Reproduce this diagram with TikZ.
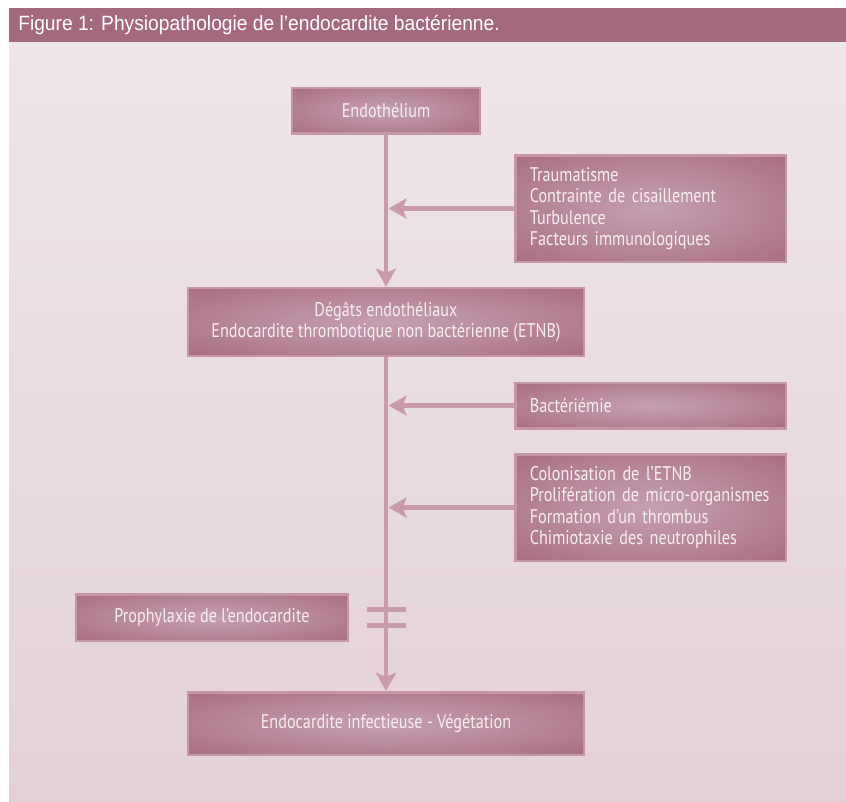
\documentclass[tikz,border=0pt]{standalone}
\usepackage{fontspec}
\setmainfont{PT Sans}[FakeStretch=0.82]
\newfontfamily\titlefont{Liberation Sans}[FakeStretch=0.93]
\usetikzlibrary{arrows.meta,calc}
\definecolor{barcol}{HTML}{A4697D}
\definecolor{bgtop}{HTML}{EFE6E8}
\definecolor{bgbot}{HTML}{E3D1D6}
\definecolor{boxcol}{HTML}{A5687D}
\definecolor{boxhi}{HTML}{C6A0B1}
\definecolor{boxedge}{HTML}{C597A6}
\definecolor{linkcol}{HTML}{C99BAA}
\definecolor{boxtext}{HTML}{F8EFF2}
\pgfdeclareradialshading{glow}{\pgfpoint{0bp}{0bp}}{color(0bp)=(boxhi); color(40bp)=(boxcol); color(75bp)=(boxcol)}
\tikzset{box/.style={draw=boxedge, line width=2pt, shading=glow, text=boxtext, inner sep=0pt, font=\fontsize{14.8}{16}\selectfont},
  list/.style={box, align=left, minimum width=203pt, text width=181pt, minimum height=80pt},
  link/.style={draw=linkcol, line width=3.5pt, -{Stealth[length=13.5pt, width=15pt, inset=3pt]}},
  bar/.style={draw=linkcol, line width=3.75pt}}
\begin{document}
\begin{tikzpicture}[x=0.75pt, y=-0.75pt]
  \useasboundingbox (0,0) rectangle (846,801);
  % panel
  \shade[top color=bgtop, bottom color=bgbot] (9,42) rectangle (846,801);
  \fill[barcol] (9,8) rectangle (846,42);
  \node[anchor=west, inner sep=0pt, text=white, font=\titlefont\fontsize{15.5}{17}\selectfont] (title) at (18,25) {Figure 1: Physiopathologie de l’endocardite bactérienne.};
  % boxes
  \node[box, minimum width=141pt, minimum height=34pt] (endo) at (386,110.5) {Endothélium};
  \node[list] (trauma) at (650.5,208.5) {Traumatisme\\Contrainte de cisaillement\\Turbulence\\Facteurs immunologiques};
  \node[box, align=center, minimum width=297pt, minimum height=51pt] (degats) at (386,322) {Dégâts endothéliaux\\Endocardite thrombotique non bactérienne (ETNB)};
  \node[box, align=left, minimum width=203pt, text width=181pt, minimum height=34pt] (bact) at (650.5,405.5) {Bactériémie};
  \node[list] (colon) at (650.5,507.5) {Colonisation de l’ETNB\\Prolifération de micro-organismes\\Formation d’un thrombus\\Chimiotaxie des neutrophiles};
  \node[box, minimum width=204pt, minimum height=35pt] (proph) at (212,617.5) {Prophylaxie de l’endocardite};
  \node[box, minimum width=297pt, minimum height=47pt] (infect) at (386,723.5) {Endocardite infectieuse - Végétation};
  % links
  \draw[link] (endo) -- (degats);
  \draw[link] (degats) -- (infect);
  \draw[link] (trauma.west) -- ($(trauma.west -| endo.south)+(2.5,0)$);
  \draw[link] (bact.west) -- ($(bact.west -| endo.south)+(2.5,0)$);
  \draw[link] (colon.west) -- ($(colon.west -| endo.south)+(2.5,0)$);
  % barrier
  \draw[bar] (367,609) -- (406,609);
  \draw[bar] (367,625) -- (406,625);
\end{tikzpicture}
\end{document}
